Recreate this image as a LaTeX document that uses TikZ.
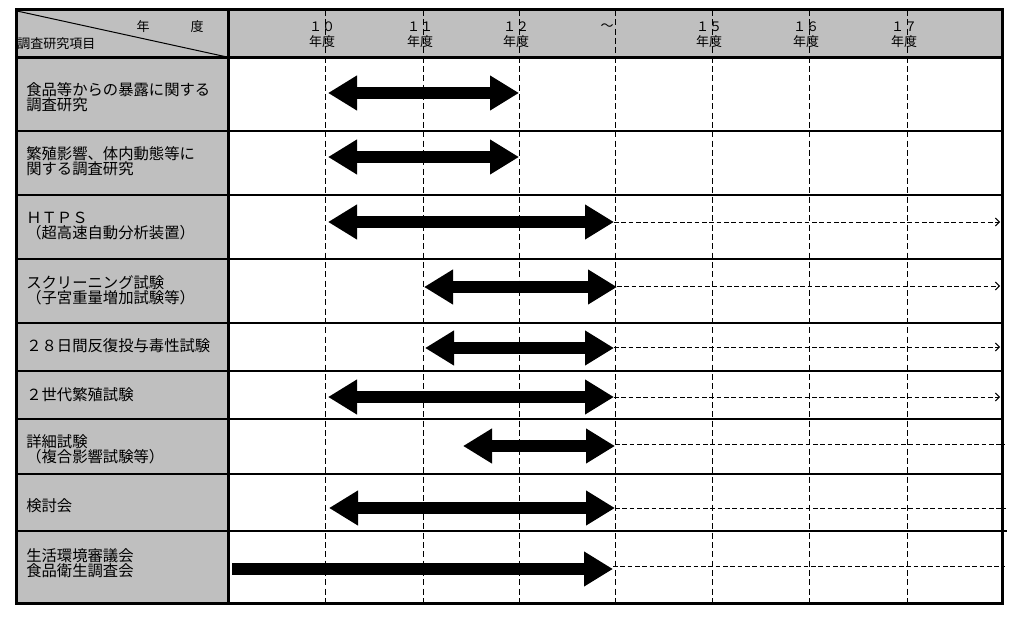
\documentclass[tikz,border=0pt]{standalone}
\usepackage{fontspec}
\newfontfamily\jpfont{Noto Sans CJK JP}
\usetikzlibrary{arrows.meta, positioning}
\tikzset{
  band/.style={fill=black!25, draw=none},
  gridline/.style={line width=0.75pt, dash pattern=on 4.5pt off 2.5pt},
  rowline/.style={line width=1.5pt},
  outerframe/.style={line width=2.25pt},
  headtxt/.style={inner sep=0pt, font=\jpfont\fontsize{9.75}{11}\selectfont},
  itemtxt/.style={
    anchor=west, align=left, inner sep=0pt,
    font=\jpfont\fontsize{11.5}{11}\selectfont
  },
  dblbar/.style={
    line width=9pt,
    {Triangle[length=21.75pt, width=24.75pt]}-{Triangle[length=21.75pt, width=24.75pt]}
  },
  onebar/.style={line width=9pt, -{Triangle[length=21.75pt, width=24.75pt]}},
  contline/.style={line width=0.75pt, dash pattern=on 3.5pt off 2pt},
  contarr/.style={contline, -{Straight Barb[length=3pt, width=6pt]}},
}
\begin{document}
\begin{tikzpicture}[x=0.75pt, y=-0.75pt]
  \useasboundingbox (0,0) rectangle (1020,631);

  % ── background bands ──────────────────────────────────────────────────────
  \fill[band] (16,10) rectangle (1002,58);
  \fill[band] (16,58) rectangle (228,603);

  % ── year grid ─────────────────────────────────────────────────────────────
  \draw[gridline] (325,10) -- (325,603);
  \draw[gridline] (423,10) -- (423,603);
  \draw[gridline] (519,10) -- (519,603);
  \draw[gridline] (615,10) -- (615,603);
  \draw[gridline] (712,10) -- (712,603);
  \draw[gridline] (809,10) -- (809,603);
  \draw[gridline] (907,10) -- (907,603);

  % ── row rules ─────────────────────────────────────────────────────────────
  \draw[rowline] (16,131) -- (1002,131);
  \draw[rowline] (16,195) -- (1002,195);
  \draw[rowline] (16,259) -- (1002,259);
  \draw[rowline] (16,323) -- (1002,323);
  \draw[rowline] (16,371) -- (1002,371);
  \draw[rowline] (16,419) -- (1002,419);
  \draw[rowline] (16,474) -- (1002,474);
  \draw[rowline] (16,531) -- (1007,531);
  \draw[line width=0.75pt] (17,11) -- (227,57);

  % ── header ────────────────────────────────────────────────────────────────
  \node[headtxt] (nen) at (143,27) {年};
  \node[headtxt] (do)  at (197,27) {度};
  \node[headtxt, anchor=west] (koumoku) at (17,44) {調査研究項目};

  \node[headtxt] (y10) at (322,27) {１０};
  \node[headtxt] (y11) at (420,27) {１１};
  \node[headtxt] (y12) at (516,27) {１２};
  \node[headtxt] (ykara) at (607,27) {～};
  \node[headtxt] (y15) at (709,27) {１５};
  \node[headtxt] (y16) at (806,27) {１６};
  \node[headtxt] (y17) at (904,27) {１７};
  \node[headtxt, below=2.25pt of y10] (d10) {年度};
  \node[headtxt, below=2.25pt of y11] (d11) {年度};
  \node[headtxt, below=2.25pt of y12] (d12) {年度};
  \node[headtxt, below=2.25pt of y15] (d15) {年度};
  \node[headtxt, below=2.25pt of y16] (d16) {年度};
  \node[headtxt, below=2.25pt of y17] (d17) {年度};

  % ── items ─────────────────────────────────────────────────────────────────
  \node[itemtxt] (item1) at (26,97)  {食品等からの暴露に関する\\調査研究};
  \node[itemtxt] (item2) at (26,161) {繁殖影響、体内動態等に\\関する調査研究};
  \node[itemtxt] (item3) at (26,226) {ＨＴＰＳ\\（超高速自動分析装置）};
  \node[itemtxt] (item4) at (26,290) {スクリーニング試験\\（子宮重量増加試験等）};
  \node[itemtxt] (item5) at (26,346) {２８日間反復投与毒性試験};
  \node[itemtxt] (item6) at (26,395) {２世代繁殖試験};
  \node[itemtxt] (item7) at (26,449) {詳細試験\\（複合影響試験等）};
  \node[itemtxt] (item8) at (26,506) {検討会};
  \node[itemtxt] (item9) at (26,563) {生活環境審議会\\食品衛生調査会};

  % ── periods ───────────────────────────────────────────────────────────────
  \coordinate (s1) at (328,93);  \coordinate (e1) at (519,93);
  \coordinate (s2) at (328,157); \coordinate (e2) at (519,157);
  \coordinate (s3) at (328,222); \coordinate (e3) at (614,222);
  \coordinate (s4) at (424,287); \coordinate (e4) at (617,287);
  \coordinate (s5) at (425,348); \coordinate (e5) at (614,348);
  \coordinate (s6) at (328,397); \coordinate (e6) at (614,397);
  \coordinate (s7) at (463,446); \coordinate (e7) at (615,446);
  \coordinate (s8) at (329,508); \coordinate (e8) at (615,508);
  \coordinate (s9) at (232,569); \coordinate (e9) at (613,569);

  \coordinate (c3) at (1000,222);
  \coordinate (c4) at (1000,286);
  \coordinate (c5) at (1000,347);
  \coordinate (c6) at (1000,397);
  \coordinate (c7) at (1005,444);
  \coordinate (c8) at (1006,508);
  \coordinate (c9) at (1005,566);

  \draw[dblbar] (s1) -- (e1);
  \draw[dblbar] (s2) -- (e2);
  \draw[dblbar] (s3) -- (e3);
  \draw[dblbar] (s4) -- (e4);
  \draw[dblbar] (s5) -- (e5);
  \draw[dblbar] (s6) -- (e6);
  \draw[dblbar] (s7) -- (e7);
  \draw[dblbar] (s8) -- (e8);
  \draw[onebar] (s9) -- (e9);

  \draw[contarr]  (e3) -- (c3);
  \draw[contarr]  (e4 |- c4) -- (c4);
  \draw[contarr]  (e5 |- c5) -- (c5);
  \draw[contarr]  (e6) -- (c6);
  \draw[contline] (e7 |- c7) -- (c7);
  \draw[contline] (e8) -- (c8);
  \draw[contline] (e9 |- c9) -- (c9);

  % ── frame ─────────────────────────────────────────────────────────────────
  \draw[outerframe] (16,58) -- (1002,58);
  \draw[outerframe] (228,10) -- (228,603);
  \draw[outerframe] (16,10) rectangle (1002,603);

\end{tikzpicture}
\end{document}
